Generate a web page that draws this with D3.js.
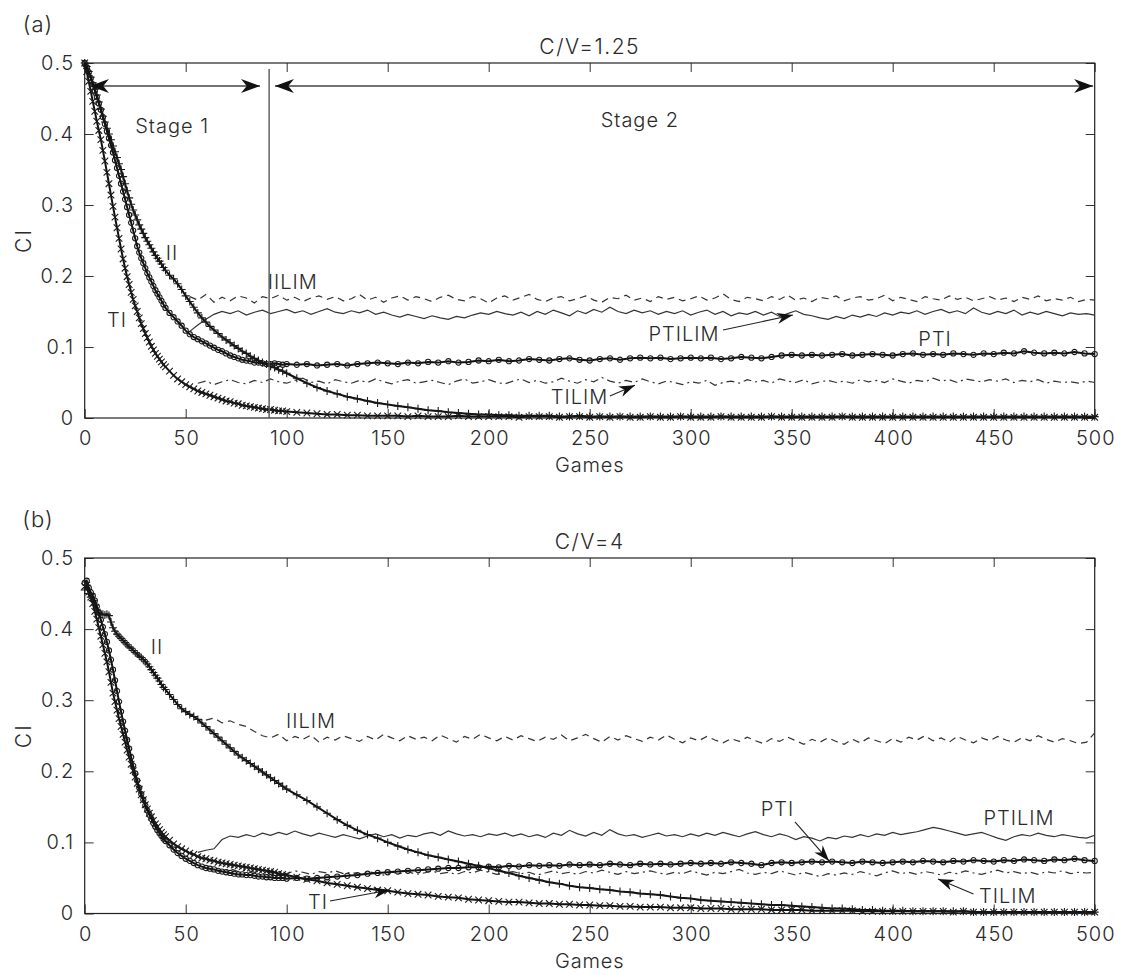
<!DOCTYPE html>
<html><head><meta charset="utf-8">
<script src="https://cdn.jsdelivr.net/npm/d3@7"></script>
<style>
body{margin:0;background:#fff}
text{font-family:"Inter","Roboto",sans-serif;fill:#2a2a2a}
</style>
</head><body>
<svg id="chart" width="1126" height="975"></svg>
<script>
// ---------------- data ----------------
const gamesMain = [0,1,2,3,4,5,6,7,8,9,10,11,12,13,14,15,16,17,18,19,20,21,22,23,24,25,26,27,28,29,30,31,32,33,34,35,36,37,38,39,40,
42,44,46,48,50,52,54,56,58,60,62,64,66,68,70,72,74,76,78,80,82,84,86,88,90,92,94,96,98,100,
105,110,115,120,125,130,135,140,145,150,155,160,165,170,175,180,185,190,195,200,
205,210,215,220,225,230,235,240,245,250,255,260,265,270,275,280,285,290,295,300,
305,310,315,320,325,330,335,340,345,350,355,360,365,370,375,380,385,390,395,400,
405,410,415,420,425,430,435,440,445,450,455,460,465,470,475,480,485,490,495,500];

const gamesLim = [52,56,60,64,68,72,76,80,84,88,92,96,100,104,108,112,116,120,124,128,
132,136,140,144,148,152,156,160,164,168,172,176,180,184,188,192,196,200,204,208,
212,216,220,224,228,232,236,240,244,248,252,256,260,264,268,272,276,280,284,288,
292,296,300,304,308,312,316,320,324,328,332,336,340,344,348,352,356,360,364,368,
372,376,380,384,388,392,396,400,404,408,412,416,420,424,428,432,436,440,444,448,
452,456,460,464,468,472,476,480,484,488,492,496,500];

const xTicks = [0,50,100,150,200,250,300,350,400,450,500];
const xTickLabels = ["0","50","100","150","200","250","300","350","400","450","500"];
const yTicks = [0,0.1,0.2,0.3,0.4,0.5];
const yTickLabels = ["0","0.1","0.2","0.3","0.4","0.5"];

// ---- panel (a): C/V=1.25 ----
const tiA = [0.500,0.488,0.474,0.460,0.446,0.432,0.418,0.405,0.392,0.377,
0.362,0.346,0.330,0.314,0.298,0.283,0.268,0.253,0.238,0.224,
0.211,0.199,0.188,0.177,0.167,0.158,0.150,0.141,0.133,0.126,
0.119,0.113,0.107,0.101,0.096,0.091,0.087,0.083,0.079,0.075,0.072,
0.066,0.060,0.055,0.051,0.047,0.044,0.041,0.038,0.036,0.034,
0.032,0.030,0.028,0.026,0.024,0.023,0.021,0.020,0.018,0.017,
0.016,0.015,0.014,0.013,0.012,0.012,0.011,0.010,0.010,0.009,
0.008,0.007,0.006,0.005,0.005,0.004,0.004,0.003,0.003,0.003,
0.003,0.002,0.003,0.002,0.002,0.002,0.003,0.002,0.002,0.002,
0.002,0.002,0.001,0.002,0.002,0.002,0.001,0.002,0.002,0.001,
0.002,0.001,0.002,0.001,0.001,0.002,0.001,0.001,0.002,0.001,
0.001,0.001,0.002,0.001,0.001,0.001,0.001,0.002,0.001,0.001,
0.001,0.001,0.001,0.001,0.002,0.001,0.001,0.001,0.001,0.001,
0.001,0.001,0.001,0.001,0.001,0.001,0.001,0.001,0.001,0.001,
0.001,0.001,0.001,0.001,0.001,0.001,0.001,0.001,0.001,0.001];

const iiA = [0.500,0.495,0.488,0.480,0.472,0.463,0.455,0.445,0.435,0.425,
0.417,0.408,0.400,0.392,0.383,0.375,0.367,0.358,0.350,0.340,
0.330,0.320,0.310,0.301,0.293,0.286,0.279,0.272,0.266,0.260,
0.254,0.249,0.244,0.239,0.234,0.229,0.225,0.221,0.217,0.212,0.208,
0.201,0.196,0.189,0.181,0.172,0.164,0.156,0.148,0.141,0.135,
0.129,0.124,0.119,0.114,0.110,0.106,0.102,0.098,0.094,0.091,
0.087,0.084,0.081,0.078,0.076,0.073,0.071,0.068,0.066,0.063,
0.056,0.049,0.043,0.038,0.034,0.030,0.027,0.024,0.021,0.019,
0.017,0.015,0.013,0.011,0.010,0.008,0.007,0.006,0.005,0.005,
0.004,0.004,0.003,0.003,0.003,0.003,0.002,0.002,0.003,0.002,
0.002,0.002,0.002,0.002,0.002,0.002,0.002,0.002,0.002,0.002,
0.002,0.002,0.002,0.002,0.002,0.002,0.002,0.002,0.002,0.002,
0.002,0.002,0.002,0.002,0.002,0.002,0.002,0.002,0.002,0.002,
0.002,0.002,0.002,0.002,0.002,0.002,0.002,0.002,0.002,0.002,
0.002,0.002,0.002,0.002,0.002,0.002,0.002,0.002,0.002,0.002];

const ptiA = [0.500,0.494,0.487,0.479,0.470,0.461,0.452,0.443,0.434,0.424,
0.414,0.404,0.394,0.384,0.374,0.363,0.352,0.341,0.330,0.319,
0.308,0.297,0.286,0.275,0.264,0.253,0.242,0.233,0.225,0.218,
0.211,0.204,0.198,0.192,0.186,0.180,0.175,0.170,0.165,0.160,0.155,
0.148,0.142,0.136,0.130,0.123,0.118,0.114,0.111,0.108,0.105,
0.102,0.099,0.096,0.094,0.091,0.088,0.086,0.084,0.082,0.081,
0.080,0.078,0.078,0.077,0.076,0.076,0.077,0.076,0.075,0.076,
0.075,0.076,0.074,0.075,0.076,0.074,0.076,0.077,0.078,0.077,
0.076,0.078,0.077,0.079,0.078,0.080,0.078,0.079,0.081,0.080,
0.082,0.080,0.081,0.083,0.082,0.081,0.083,0.084,0.082,0.081,
0.083,0.084,0.082,0.084,0.085,0.084,0.085,0.083,0.084,0.085,
0.084,0.085,0.083,0.084,0.086,0.085,0.084,0.086,0.088,0.089,
0.088,0.089,0.088,0.089,0.090,0.088,0.089,0.090,0.089,0.088,
0.090,0.091,0.089,0.090,0.089,0.091,0.090,0.089,0.091,0.090,
0.092,0.091,0.094,0.092,0.091,0.092,0.091,0.093,0.091,0.090];

const iilimA = [0.171,0.166,0.174,0.163,0.170,0.165,0.172,0.169,0.162,0.171,
0.168,0.173,0.166,0.170,0.164,0.169,0.172,0.167,0.171,0.165,
0.168,0.174,0.166,0.170,0.163,0.169,0.172,0.166,0.171,0.168,
0.164,0.170,0.173,0.167,0.165,0.171,0.168,0.162,0.169,0.172,
0.166,0.170,0.174,0.167,0.164,0.169,0.171,0.165,0.168,0.172,
0.166,0.163,0.170,0.168,0.173,0.166,0.169,0.164,0.171,0.167,
0.170,0.165,0.168,0.172,0.166,0.169,0.175,0.167,0.164,0.170,
0.168,0.165,0.171,0.167,0.173,0.166,0.169,0.164,0.170,0.168,
0.172,0.165,0.169,0.171,0.166,0.168,0.173,0.165,0.170,0.167,
0.164,0.171,0.168,0.166,0.172,0.167,0.170,0.165,0.168,0.171,
0.166,0.169,0.164,0.170,0.167,0.172,0.165,0.168,0.166,0.170,
0.164,0.167,0.166];

const ptilimA = [0.122,0.131,0.139,0.146,0.150,0.147,0.151,0.145,0.149,0.152,
0.147,0.150,0.153,0.148,0.151,0.146,0.150,0.154,0.149,0.147,
0.151,0.148,0.152,0.146,0.149,0.145,0.142,0.146,0.143,0.140,
0.144,0.141,0.139,0.143,0.141,0.145,0.148,0.146,0.150,0.147,
0.145,0.149,0.144,0.150,0.146,0.152,0.148,0.144,0.151,0.147,
0.153,0.149,0.156,0.150,0.147,0.152,0.148,0.151,0.146,0.150,
0.147,0.151,0.145,0.149,0.152,0.146,0.150,0.144,0.148,0.146,
0.150,0.145,0.149,0.143,0.147,0.151,0.146,0.144,0.141,0.139,
0.143,0.140,0.145,0.142,0.146,0.143,0.148,0.145,0.149,0.147,
0.151,0.146,0.150,0.153,0.148,0.151,0.147,0.155,0.149,0.146,
0.150,0.147,0.152,0.145,0.149,0.146,0.150,0.147,0.144,0.148,
0.146,0.147,0.145];

const tilimA = [null,0.049,0.052,0.047,0.051,0.054,0.050,0.048,0.053,0.050,
0.055,0.051,0.049,0.053,0.056,0.050,0.052,0.048,0.054,0.051,
0.049,0.053,0.050,0.055,0.051,0.048,0.052,0.054,0.049,0.051,
0.053,0.050,0.047,0.052,0.055,0.049,0.051,0.054,0.050,0.048,
0.052,0.055,0.050,0.053,0.049,0.051,0.056,0.052,0.049,0.054,
0.051,0.057,0.052,0.049,0.053,0.050,0.055,0.051,0.048,0.052,
0.050,0.047,0.051,0.049,0.053,0.046,0.050,0.052,0.049,0.054,
0.051,0.053,0.049,0.055,0.052,0.050,0.054,0.048,0.051,0.053,
0.050,0.052,0.049,0.054,0.051,0.053,0.050,0.055,0.052,0.049,
0.053,0.051,0.056,0.052,0.054,0.050,0.055,0.053,0.051,0.054,
0.052,0.055,0.050,0.053,0.051,0.054,0.049,0.052,0.050,0.051,
0.049,0.052,0.050];

// ---- panel (b): C/V=4 ----
const tiB = [0.460,0.462,0.452,0.445,0.436,0.425,0.414,0.402,0.390,0.378,
0.366,0.354,0.340,0.325,0.310,0.298,0.286,0.274,0.263,0.252,
0.241,0.230,0.220,0.210,0.201,0.192,0.183,0.175,0.167,0.160,
0.153,0.147,0.141,0.136,0.131,0.126,0.122,0.118,0.114,0.111,0.108,
0.103,0.098,0.094,0.091,0.088,0.085,0.083,0.080,0.078,0.077,
0.075,0.074,0.072,0.071,0.070,0.069,0.068,0.067,0.066,0.065,
0.064,0.063,0.062,0.061,0.060,0.059,0.058,0.056,0.055,0.054,
0.051,0.048,0.046,0.043,0.041,0.039,0.037,0.035,0.033,0.032,
0.030,0.028,0.027,0.026,0.024,0.023,0.022,0.020,0.019,0.018,
0.017,0.016,0.016,0.015,0.014,0.014,0.013,0.013,0.012,0.012,
0.011,0.011,0.010,0.010,0.009,0.009,0.009,0.008,0.008,0.008,
0.007,0.007,0.007,0.006,0.006,0.006,0.006,0.005,0.005,0.005,
0.005,0.004,0.004,0.004,0.004,0.004,0.003,0.003,0.003,0.003,
0.003,0.003,0.003,0.003,0.003,0.002,0.003,0.002,0.002,0.002,
0.002,0.002,0.002,0.002,0.002,0.002,0.002,0.002,0.002,0.002];

const ptiB = [0.465,0.468,0.458,0.452,0.447,0.440,0.432,0.423,0.413,0.403,
0.393,0.382,0.370,0.357,0.343,0.328,0.313,0.298,0.284,0.270,
0.257,0.244,0.232,0.220,0.208,0.197,0.187,0.177,0.168,0.160,
0.152,0.145,0.139,0.133,0.127,0.122,0.117,0.113,0.109,0.105,0.102,
0.096,0.090,0.085,0.081,0.077,0.074,0.071,0.068,0.066,0.064,
0.063,0.062,0.060,0.059,0.058,0.057,0.056,0.055,0.055,0.054,
0.054,0.053,0.052,0.052,0.051,0.051,0.050,0.050,0.050,0.049,
0.050,0.049,0.050,0.051,0.052,0.053,0.054,0.056,0.057,0.058,
0.059,0.060,0.061,0.062,0.063,0.064,0.064,0.065,0.065,0.066,
0.065,0.067,0.066,0.068,0.067,0.068,0.067,0.069,0.068,0.069,
0.068,0.070,0.069,0.068,0.070,0.069,0.070,0.069,0.070,0.071,
0.070,0.071,0.070,0.072,0.071,0.070,0.068,0.071,0.072,0.071,
0.072,0.073,0.072,0.073,0.072,0.071,0.073,0.072,0.071,0.072,
0.073,0.072,0.074,0.073,0.072,0.074,0.073,0.075,0.074,0.073,
0.075,0.074,0.076,0.075,0.074,0.076,0.075,0.077,0.075,0.074];

const iiB = [0.455,0.462,0.450,0.445,0.440,0.434,0.428,0.423,0.421,0.421,
0.420,0.421,0.419,0.410,0.402,0.397,0.393,0.390,0.387,0.384,
0.381,0.378,0.375,0.373,0.370,0.367,0.365,0.362,0.360,0.357,
0.354,0.351,0.347,0.343,0.339,0.335,0.331,0.327,0.322,0.318,0.315,
0.308,0.301,0.294,0.288,0.284,0.280,0.277,0.273,0.268,0.263,
0.258,0.253,0.248,0.243,0.238,0.233,0.228,0.223,0.219,0.215,
0.211,0.207,0.203,0.199,0.195,0.191,0.187,0.183,0.179,0.175,
0.167,0.159,0.150,0.141,0.132,0.124,0.117,0.111,0.106,0.100,
0.095,0.090,0.086,0.082,0.079,0.076,0.073,0.070,0.067,0.064,
0.060,0.057,0.053,0.050,0.047,0.044,0.042,0.039,0.037,0.036,
0.034,0.033,0.031,0.030,0.028,0.027,0.026,0.024,0.022,0.021,
0.019,0.018,0.017,0.016,0.015,0.014,0.013,0.012,0.012,0.011,
0.010,0.009,0.008,0.007,0.007,0.006,0.005,0.005,0.004,0.004,
0.004,0.003,0.003,0.003,0.003,0.003,0.003,0.002,0.002,0.002,
0.002,0.002,0.002,0.002,0.002,0.002,0.002,0.002,0.002,0.002];

const iilimB = [null,null,0.272,0.275,0.268,0.271,0.266,0.263,0.256,0.250,
0.247,0.252,0.243,0.249,0.245,0.251,0.241,0.248,0.244,0.250,
0.246,0.242,0.249,0.244,0.252,0.247,0.243,0.250,0.245,0.248,
0.243,0.251,0.246,0.241,0.249,0.245,0.252,0.247,0.243,0.249,
0.244,0.250,0.246,0.242,0.248,0.245,0.251,0.243,0.247,0.252,
0.246,0.241,0.249,0.244,0.250,0.246,0.242,0.248,0.244,0.251,
0.245,0.240,0.247,0.243,0.249,0.244,0.240,0.246,0.242,0.248,
0.243,0.239,0.246,0.242,0.248,0.243,0.238,0.245,0.241,0.247,
0.242,0.238,0.245,0.240,0.247,0.243,0.239,0.246,0.241,0.248,
0.244,0.250,0.243,0.247,0.241,0.249,0.244,0.240,0.247,0.243,
0.249,0.244,0.241,0.247,0.243,0.250,0.245,0.241,0.246,0.243,
0.239,0.241,0.254];

const ptilimB = [null,0.086,0.089,0.091,0.104,0.109,0.107,0.111,0.108,0.113,
0.110,0.114,0.111,0.116,0.112,0.109,0.113,0.110,0.107,0.111,
0.108,0.105,0.109,0.112,0.108,0.111,0.106,0.110,0.108,0.112,
0.114,0.110,0.116,0.112,0.109,0.111,0.108,0.112,0.110,0.113,
0.109,0.112,0.108,0.111,0.107,0.113,0.110,0.117,0.112,0.109,
0.114,0.110,0.118,0.112,0.109,0.111,0.107,0.110,0.113,0.109,
0.111,0.108,0.112,0.109,0.113,0.110,0.114,0.111,0.108,0.112,
0.115,0.111,0.108,0.112,0.109,0.104,0.108,0.106,0.102,0.107,
0.105,0.109,0.107,0.111,0.108,0.112,0.110,0.114,0.111,0.113,
0.115,0.118,0.121,0.119,0.116,0.113,0.110,0.112,0.114,0.110,
0.106,0.103,0.108,0.111,0.109,0.113,0.110,0.108,0.111,0.109,
0.107,0.106,0.110];

const tilimB = [null,null,null,0.062,0.060,0.063,0.059,0.061,0.058,0.060,
0.057,0.059,0.056,0.060,0.058,0.055,0.059,0.057,0.060,0.056,
0.058,0.055,0.059,0.057,0.054,0.058,0.056,0.059,0.055,0.057,
0.060,0.056,0.058,0.055,0.059,0.057,0.061,0.058,0.055,0.057,
0.059,0.056,0.058,0.054,0.057,0.060,0.056,0.058,0.055,0.059,
0.057,0.061,0.058,0.055,0.059,0.056,0.058,0.060,0.057,0.055,
0.058,0.056,0.060,0.057,0.054,0.058,0.056,0.059,0.062,0.057,
0.055,0.058,0.056,0.060,0.057,0.054,0.058,0.055,0.052,0.056,
0.054,0.057,0.055,0.059,0.056,0.053,0.057,0.060,0.056,0.058,
0.055,0.059,0.057,0.054,0.058,0.056,0.060,0.057,0.055,0.058,
0.061,0.057,0.059,0.056,0.058,0.055,0.059,0.057,0.060,0.056,
0.058,0.057,0.058];

// annotations (game, CI)
const labelsA = [
  {t:"Stage 1", g:43.3, v:0.411}, {t:"Stage 2", g:274.8, v:0.420},
  {t:"II", g:43.2, v:0.232}, {t:"TI", g:16, v:0.138},
  {t:"IILIM", g:103, v:0.192}, {t:"PTILIM", g:296.7, v:0.118},
  {t:"PTI", g:421, v:0.111}, {t:"TILIM", g:245, v:0.030}];
const arrowsA = [{g0:316, v0:0.124, g1:350.6, v1:0.145}, {g0:260, v0:0.031, g1:272.4, v1:0.046}];
const stageArrowsA = [{g0:2.6, g1:86.8, v:0.4676}, {g0:94.2, g1:499.2, v:0.4676}];
const stageDividerA = {g:91.3, v0:0, v1:0.4915};

const labelsB = [
  {t:"II", g:35.8, v:0.375}, {t:"IILIM", g:112, v:0.271},
  {t:"PTI", g:343, v:0.147}, {t:"PTILIM", g:462.5, v:0.1345},
  {t:"TILIM", g:457, v:0.0247}, {t:"TI", g:115.5, v:0.016}];
const arrowsB = [{g0:351.6, v0:0.129, g1:368.5, v1:0.074},
  {g0:440, v0:0.0275, g1:422.4, v1:0.0486},
  {g0:121.4, v0:0.0176, g1:151, v1:0.033}];

// ---------------- drawing ----------------
const svg = d3.select("#chart");
const X0 = 84.7, X1 = 1094.7;

function zip(xs, ys){ return xs.map((g,i)=>[g, ys[i]]); }

function markerPath(pts, x, y, kind, s){
  let p = "";
  pts.forEach(([g,v])=>{
    if (v == null) return;
    const cx = x(g), cy = y(v);
    if (kind === "x") p += `M${cx-s},${cy-s}L${cx+s},${cy+s}M${cx-s},${cy+s}L${cx+s},${cy-s}`;
    else if (kind === "+") p += `M${cx-s},${cy}L${cx+s},${cy}M${cx},${cy-s}L${cx},${cy+s}`;
    else p += `M${cx+s},${cy}A${s},${s} 0 1,1 ${cx-s},${cy}A${s},${s} 0 1,1 ${cx+s},${cy}`;
  });
  return p;
}

function arrowHead(g, x0,y0,x1,y1,len,wid){
  const a = Math.atan2(y1-y0, x1-x0);
  const bx = x1 - len*Math.cos(a), by = y1 - len*Math.sin(a);
  const nx = -Math.sin(a)*wid/2, ny = Math.cos(a)*wid/2;
  const ix = x1 - len*0.7*Math.cos(a), iy = y1 - len*0.7*Math.sin(a);
  g.append("path").attr("d",`M${x1},${y1}L${bx+nx},${by+ny}L${ix},${iy}L${bx-nx},${by-ny}Z`).attr("fill","#111");
}

function panel(cfg){
  const x = d3.scaleLinear().domain([0,500]).range([X0,X1]);
  const y = d3.scaleLinear().domain([0,0.5]).range([cfg.bottom, cfg.top]);
  const g = svg.append("g");

  const ax = (sel)=>sel.selectAll(".domain").remove();
  g.append("g").attr("transform",`translate(0,${cfg.bottom})`)
    .call(d3.axisBottom(x).tickValues(xTicks).tickFormat((d,i)=>xTickLabels[i]).tickSizeInner(-9).tickSizeOuter(0).tickPadding(13))
    .call(ax).call(s=>{s.selectAll("text").style("font-size","20px").style("font-weight","300").style("letter-spacing","1px").attr("dx","0.5px").attr("fill","#333");
                       s.selectAll("line").attr("stroke","#333");});
  g.append("g").attr("transform",`translate(0,${cfg.top})`)
    .call(d3.axisTop(x).tickValues(xTicks).tickFormat("").tickSizeInner(-9).tickSizeOuter(0))
    .call(ax).call(s=>s.selectAll("line").attr("stroke","#333"));
  g.append("g").attr("transform",`translate(${X0},0)`)
    .call(d3.axisLeft(y).tickValues(yTicks).tickFormat((d,i)=>yTickLabels[i]).tickSizeInner(-9).tickSizeOuter(0).tickPadding(10))
    .call(ax).call(s=>{s.selectAll("text").style("font-size","20px").style("font-weight","300").style("letter-spacing","1.5px").attr("fill","#333");
                       s.selectAll("line").attr("stroke","#333");});
  g.append("g").attr("transform",`translate(${X1},0)`)
    .call(d3.axisRight(y).tickValues(yTicks).tickFormat("").tickSizeInner(-9).tickSizeOuter(0))
    .call(ax).call(s=>s.selectAll("line").attr("stroke","#333"));
  g.append("rect").attr("x",X0).attr("y",cfg.top).attr("width",X1-X0).attr("height",cfg.bottom-cfg.top)
    .attr("fill","none").attr("stroke","#222").attr("stroke-width",1.2);

  const txt = (xx,yy,size,ls,t)=>g.append("text").attr("x",xx).attr("y",yy).attr("text-anchor","middle").attr("dy","0.35em")
    .style("font-size",size).style("font-weight","300").style("letter-spacing",ls).text(t);
  txt(38, cfg.top-39, "22px", "1px", cfg.tag);
  txt(x(250), cfg.top-16, "21px", "1.5px", cfg.title);
  txt(x(250), cfg.bottom+47, "20px", "0.8px", "Games");
  g.append("text").attr("transform",`translate(24,${y(0.25)}) rotate(-90)`).attr("text-anchor","middle").attr("dy","0.35em")
    .style("font-size","21px").style("font-weight","300").style("letter-spacing","2px").text("CI");

  const line = d3.line().defined(d=>d[1]!=null).x(d=>x(d[0])).y(d=>y(d[1]));
  const plot = g.append("g");

  cfg.lims.forEach(L=>{
    plot.append("path").datum(zip(gamesLim, L.vals)).attr("d",line)
      .attr("fill","none").attr("stroke","#333").attr("stroke-width",1.2)
      .attr("stroke-dasharray",L.dash||null);
  });
  cfg.curves.forEach(C=>{
    const pts = zip(gamesMain, C.vals);
    plot.append("path").datum(pts).attr("d",line)
      .attr("fill","none").attr("stroke","#111").attr("stroke-width",2);
    plot.append("path").attr("d",markerPath(pts,x,y,C.kind,C.s))
      .attr("fill","none").attr("stroke","#1a1a1a").attr("stroke-width",1.1);
  });

  cfg.labels.forEach(L=>{ txt(x(L.g), y(L.v), "20px", "1px", L.t); });
  cfg.arrows.forEach(A=>{
    const x0=x(A.g0), y0=y(A.v0), x1=x(A.g1), y1=y(A.v1);
    g.append("line").attr("x1",x0).attr("y1",y0).attr("x2",x1).attr("y2",y1).attr("stroke","#222").attr("stroke-width",1.1);
    arrowHead(g,x0,y0,x1,y1,16,11);
  });
  if (cfg.stageArrows){
    cfg.stageArrows.forEach(A=>{
      const x0=x(A.g0), x1=x(A.g1), yy=y(A.v);
      g.append("line").attr("x1",x0).attr("y1",yy).attr("x2",x1).attr("y2",yy).attr("stroke","#444").attr("stroke-width",1.4);
      arrowHead(g,x0,yy,x1,yy,19,14);
      arrowHead(g,x1,yy,x0,yy,19,14);
    });
    const D = cfg.divider;
    g.append("line").attr("x1",x(D.g)).attr("x2",x(D.g)).attr("y1",y(D.v0)).attr("y2",y(D.v1))
      .attr("stroke","#555").attr("stroke-width",1.4);
  }
}

panel({top:63, bottom:418, tag:"(a)", title:"C/V=1.25",
  lims:[{vals:iilimA, dash:"7,5"},{vals:ptilimA},{vals:tilimA, dash:"8,4,2,4"}],
  curves:[{vals:tiA, kind:"x", s:3.3},{vals:iiA, kind:"+", s:4},{vals:ptiA, kind:"o", s:2.6}],
  labels:labelsA, arrows:arrowsA, stageArrows:stageArrowsA, divider:stageDividerA});

panel({top:558, bottom:913.5, tag:"(b)", title:"C/V=4",
  lims:[{vals:iilimB, dash:"7,5"},{vals:ptilimB},{vals:tilimB, dash:"8,4,2,4"}],
  curves:[{vals:tiB, kind:"x", s:3.3},{vals:iiB, kind:"+", s:4},{vals:ptiB, kind:"o", s:2.6}],
  labels:labelsB, arrows:arrowsB});
</script>
</body></html>
